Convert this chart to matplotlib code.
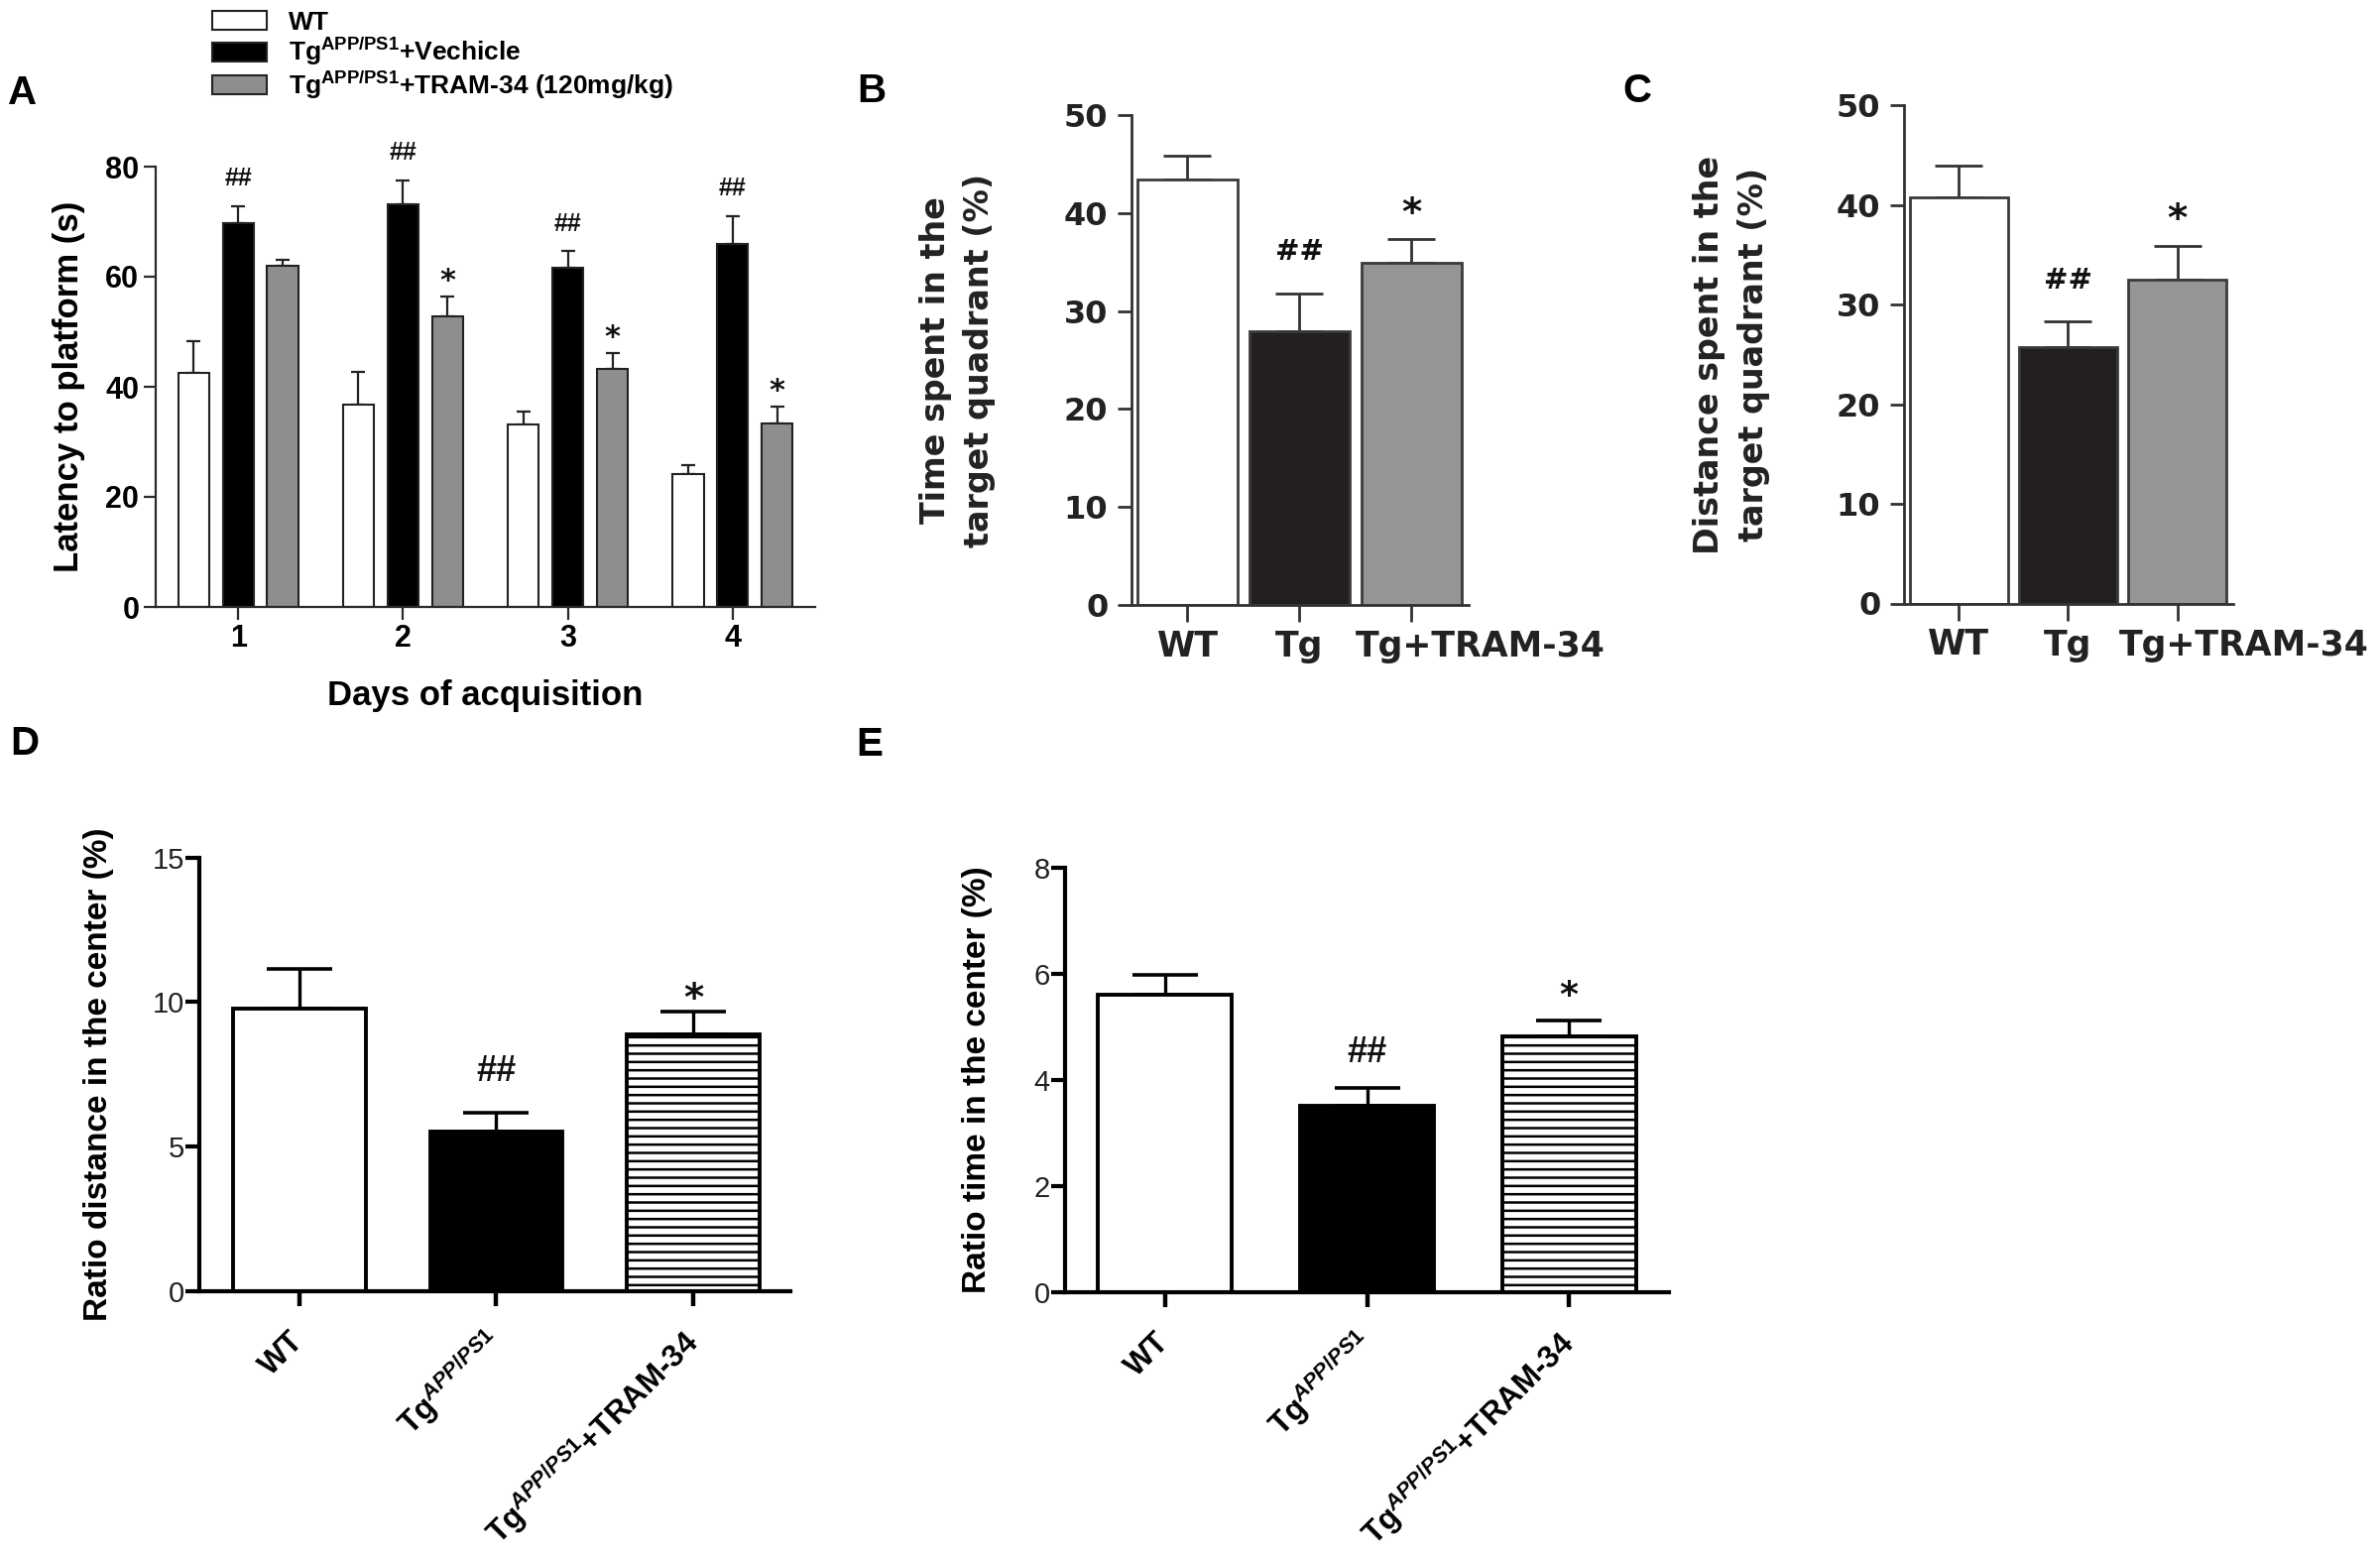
import numpy as np
import matplotlib
matplotlib.use('Agg')
import matplotlib.pyplot as plt
import matplotlib.transforms as mtransforms

plt.rcParams['font.family'] = ['Liberation Sans', 'DejaVu Sans']
plt.rcParams['font.weight'] = 'bold'
plt.rcParams['mathtext.fontset'] = 'custom'
plt.rcParams['mathtext.rm'] = 'Liberation Sans:bold'
plt.rcParams['mathtext.bf'] = 'Liberation Sans:bold'
plt.rcParams['mathtext.it'] = 'Liberation Sans:bold:italic'
plt.rcParams['hatch.linewidth'] = 1.8
plt.rcParams['hatch.color'] = 'black'

# ---------------- data ----------------
days = [1, 2, 3, 4]
a_series = ["WT", r"Tg$^{\mathbf{APP/PS1}}$+Vechicle", r"Tg$^{\mathbf{APP/PS1}}$+TRAM-34 (120mg/kg)"]
a_wt_mean = [42.6, 36.8, 33.2, 24.1]
a_wt_err = [5.7, 5.9, 2.3, 1.7]
a_veh_mean = [69.8, 73.2, 61.7, 65.9]
a_veh_err = [3.0, 4.3, 2.9, 5.1]
a_tram_mean = [61.9, 52.8, 43.2, 33.3]
a_tram_err = [1.1, 3.6, 3.0, 3.1]
a_veh_marks = ["##", "##", "##", "##"]
a_tram_marks = ["", "*", "*", "*"]
a_yticks = [0, 20, 40, 60, 80]

bc_groups = ["WT", "Tg", "Tg+TRAM-34"]
b_mean = [43.4, 27.9, 34.9]
b_err = [2.5, 3.9, 2.4]
c_mean = [40.8, 25.7, 32.5]
c_err = [3.2, 2.6, 3.4]
bc_marks = ["", "##", "*"]
bc_yticks = [0, 10, 20, 30, 40, 50]

de_groups = ["WT", r"Tg$^{APP/PS1}$", r"Tg$^{APP/PS1}$+TRAM-34"]
d_mean = [9.77, 5.53, 8.89]
d_err = [1.38, 0.65, 0.77]
d_yticks = [0, 5, 10, 15]
e_mean = [5.61, 3.52, 4.82]
e_err = [0.37, 0.33, 0.31]
e_yticks = [0, 2, 4, 6, 8]
de_marks = ["", "##", "*"]

# ---------------- figure ----------------
W, H = 2400, 1575
fig = plt.figure(figsize=(W / 100, H / 100), dpi=100)


def px_axes(l, t, r, b):
    return fig.add_axes([l / W, 1 - b / H, (r - l) / W, (b - t) / H])


def style_spines(ax, lw, color):
    for s in ['top', 'right']:
        ax.spines[s].set_visible(False)
    for s in ['left', 'bottom']:
        ax.spines[s].set_linewidth(lw)
        ax.spines[s].set_color(color)


def mark(ax, x, y, txt, size, dy, family):
    if txt:
        ax.annotate(txt, xy=(x, y), xytext=(0, dy), textcoords='offset points',
                    ha='center', va='baseline', fontsize=size, fontweight='bold',
                    family=family, color='#111111')


# ---------------- Panel A ----------------
axA = px_axes(157, 168, 822, 612)
style_spines(axA, 1.6, '#2a2a2a')
x = np.array(days, dtype=float)
off, bw = 0.27, 0.187
colorsA = ['white', 'black', '#8e8e8e']
meansA = [a_wt_mean, a_veh_mean, a_tram_mean]
errsA = [a_wt_err, a_veh_err, a_tram_err]
for k in range(3):
    xs = x + (k - 1) * off
    axA.errorbar(xs, meansA[k], yerr=[np.zeros(4), errsA[k]], fmt='none',
                 ecolor='#222222', elinewidth=1.6, capsize=5, capthick=1.6, zorder=1)
    axA.bar(xs, meansA[k], width=bw, color=colorsA[k], edgecolor='#222222',
            linewidth=1.5, label=a_series[k], zorder=2)
for i in range(4):
    mark(axA, x[i], a_veh_mean[i] + a_veh_err[i], a_veh_marks[i], 18, 15, 'Liberation Sans')
    mark(axA, x[i] + off, a_tram_mean[i] + a_tram_err[i], a_tram_marks[i], 22, 4.7, 'DejaVu Sans')
axA.set_xlim(0.5, 4.5)
axA.set_ylim(0, 80)
axA.set_yticks(a_yticks, labels=[str(v) for v in a_yticks], fontsize=22, fontweight='bold')
axA.set_xticks(days, labels=[str(d) for d in days], fontsize=22, fontweight='bold')
axA.tick_params(direction='out', length=9, width=1.6, color='#2a2a2a', pad=3)
axA.set_ylabel("Latency to platform (s)", fontsize=25, fontweight='bold')
axA.yaxis.label.set_va('center')
axA.yaxis.set_label_coords(-0.131, 0.5)
axA.set_xlabel("Days of acquisition", fontsize=25, fontweight='bold')
axA.xaxis.label.set_va('center')
axA.xaxis.set_label_coords((489 - 157) / 665, -(702 - 612) / 444)

h, l = axA.get_legend_handles_labels()
fig.legend(h, l, loc='upper left', bbox_to_anchor=(214 / W, 1 - 11 / H), frameon=False,
           prop={'family': 'Liberation Sans', 'weight': 'bold', 'size': 19},
           handlelength=2.1, handleheight=0.75, handletextpad=0.8, labelspacing=0.05,
           borderpad=0, borderaxespad=0)


# ---------------- Panels B, C ----------------
def panel_bc(box, means, errs, ylabel, lab_x, shift_px):
    ax = px_axes(*box)
    style_spines(ax, 2.0, '#333333')
    pos = np.arange(3)
    cols = ['white', '#231f20', '#959595']
    ax.errorbar(pos, means, yerr=[np.zeros(3), errs], fmt='none', ecolor='#333333',
                elinewidth=2.0, capsize=17, capthick=2.0, zorder=1)
    ax.bar(pos, means, width=0.9, color=cols, edgecolor='#3a3a3a', linewidth=2.0, zorder=2)
    for i in range(3):
        if bc_marks[i] == '##':
            mark(ax, pos[i], means[i] + errs[i], '##', 21, 24, 'DejaVu Sans')
        else:
            mark(ax, pos[i], means[i] + errs[i], bc_marks[i], 28, 10.5, 'DejaVu Sans')
    ax.set_xlim(-0.5, 2.51)
    ax.set_ylim(0, 50)
    ax.set_yticks(bc_yticks, labels=[str(v) for v in bc_yticks], fontsize=23,
                  fontweight='bold', family='DejaVu Sans', color='#222222')
    ax.set_xticks(pos, labels=bc_groups, fontsize=25, fontweight='bold',
                  family='DejaVu Sans', color='#222222')
    ax.tick_params(axis='y', direction='out', length=10, width=2, color='#333333', pad=7)
    ax.tick_params(axis='x', direction='out', length=12, width=2, color='#333333', pad=6)
    labs = ax.get_xticklabels()
    labs[2].set_transform(labs[2].get_transform() +
                          mtransforms.ScaledTranslation(shift_px / 100, 0, fig.dpi_scale_trans))
    ax.set_ylabel(ylabel, fontsize=24, fontweight='bold', family='DejaVu Sans',
                  linespacing=1.45, color='#222222')
    ax.yaxis.label.set_va('center')
    ax.yaxis.set_label_coords(lab_x, 0.5)
    return ax


axB = panel_bc((1141, 116, 1481, 610), b_mean, b_err,
               "Time spent in the\ntarget quadrant (%)", -0.516, 69)
axC = panel_bc((1920, 106.5, 2252, 608.5), c_mean, c_err,
               "Distance spent in the\ntarget quadrant (%)", -0.524, 67)


# ---------------- Panels D, E ----------------
def panel_de(box, means, errs, yticks, ylabel, lab_x, width, xlim, hash_dy, star_dy, star_size):
    ax = px_axes(*box)
    style_spines(ax, 3.0, 'black')
    pos = np.arange(3)
    ax.errorbar(pos, means, yerr=[np.zeros(3), errs], fmt='none', ecolor='black',
                elinewidth=2.4, capsize=24, capthick=2.6, zorder=1)
    bars = ax.bar(pos, means, width=width, color=['white', 'black', 'white'],
                  edgecolor='black', linewidth=2.8, zorder=2)
    bars[2].set_hatch('--')
    mark(ax, pos[1], means[1] + errs[1], de_marks[1], 26, hash_dy, 'Liberation Sans')
    mark(ax, pos[2], means[2] + errs[2], de_marks[2], star_size, star_dy, 'DejaVu Sans')
    ax.set_xlim(*xlim)
    ax.set_ylim(yticks[0], yticks[-1])
    ax.set_yticks(yticks, labels=[str(v) for v in yticks], fontsize=21,
                  fontweight='normal', color='#222222')
    ax.set_xticks(pos, labels=de_groups, fontsize=22.5, fontweight='bold',
                  rotation=45, ha='right', va='center', rotation_mode='anchor')
    ax.tick_params(axis='y', direction='out', length=10, width=3, pad=1)
    ax.tick_params(axis='x', direction='out', length=11, width=3.2, pad=22)
    ax.set_ylabel(ylabel, fontsize=24, fontweight='bold')
    ax.yaxis.label.set_va('center')
    ax.yaxis.set_label_coords(lab_x, 0.5)
    return ax


axD = panel_de((201, 864.5, 797, 1302), d_mean, d_err, d_yticks,
               "Ratio distance in the center (%)", -0.171, 0.675, (-0.509, 2.494), 23, 1, 28)
axE = panel_de((1074, 875, 1683, 1303), e_mean, e_err, e_yticks,
               "Ratio time in the center (%)", -0.1445, 0.663, (-0.496, 2.496), 19, 10.5, 26)

# ---------------- panel letters ----------------
for letter, px, py in [('A', 8, 94), ('B', 864, 92), ('C', 1636, 92), ('D', 10, 750), ('E', 863, 751)]:
    fig.text(px / W, 1 - py / H, letter, fontsize=29, fontweight='bold', va='center', ha='left',
             family='Liberation Sans')

fig.savefig('out.png', dpi=100)
